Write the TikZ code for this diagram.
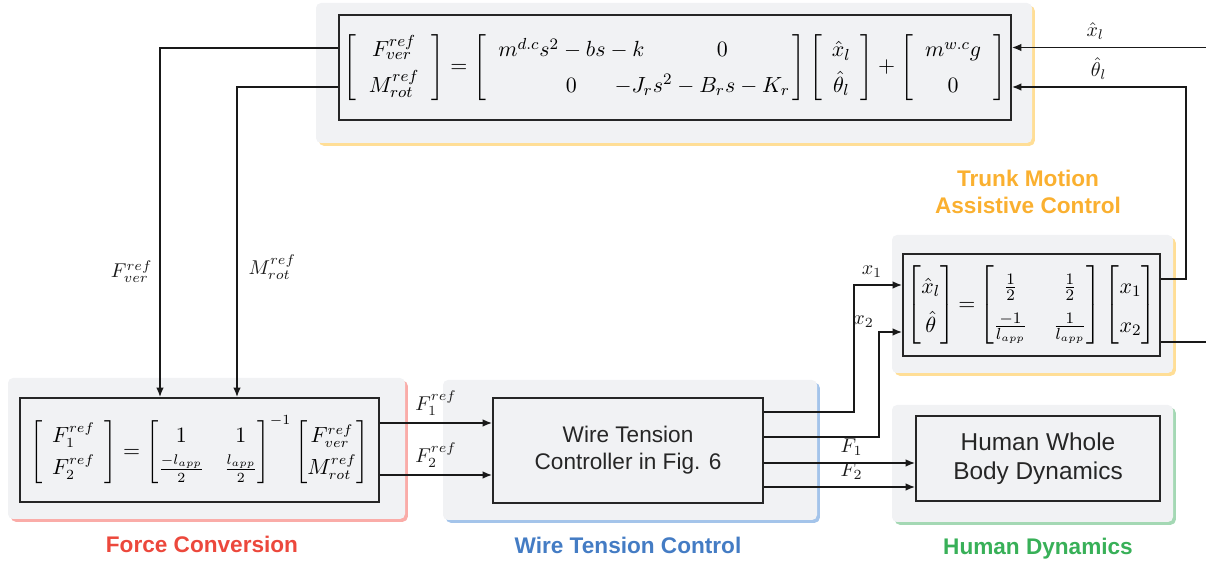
\documentclass[tikz,border=0pt]{standalone}
\usepackage{amsmath,amssymb}
\usepackage{fontspec}
\setsansfont{Liberation Sans}
\usetikzlibrary{positioning, arrows.meta, calc, shadows}
\definecolor{cBg}{RGB}{241,242,244}
\definecolor{cR}{RGB}{236,72,60}
\definecolor{cB}{RGB}{68,124,196}
\definecolor{cY}{RGB}{250,176,48}
\definecolor{cG}{RGB}{56,176,88}
\definecolor{cRs}{RGB}{250,172,168}
\definecolor{cBs}{RGB}{164,196,234}
\definecolor{cYs}{RGB}{255,222,150}
\definecolor{cGs}{RGB}{164,216,180}

\begin{document}
\begin{tikzpicture}[x=0.5pt, y=-0.5pt, >={Latex[length=4.8pt,width=3.8pt]},
    panel/.style={fill=cBg, rounded corners=2.5pt,
        drop shadow={shadow xshift=1.4pt, shadow yshift=-1.4pt, fill=#1, opacity=1}},
    blk/.style={draw=black!85, line width=0.75pt, fill=cBg, inner sep=0pt},
    eq/.style={font=\fontsize{11}{13.5}\selectfont},
    conn/.style={->, line width=0.9pt, black!90},
    wire/.style={line width=0.9pt, black!90},
    txt/.style={font=\sffamily\fontsize{11.3}{13.5}\selectfont, align=center, text=black!85},
    grp/.style={font=\sffamily\bfseries\fontsize{11.3}{13.4}\selectfont, align=center}]

    \useasboundingbox (0,0) rectangle (1206,566);

    % group panels
    \fill[panel=cYs] (316,3) rectangle (1032,143);
    \fill[panel=cYs] (892,235) rectangle (1173,373);
    \fill[panel=cRs] (8,378) rectangle (405,519);
    \fill[panel=cBs] (443,380) rectangle (817,520);
    \fill[panel=cGs] (892,405) rectangle (1173,522);

    % blocks
    \node[blk, eq, minimum width=336pt, minimum height=52.5pt] (eqtop) at (675,67.5)
        {\renewcommand{\arraystretch}{1.3}%
         $\left[\;\;\begin{matrix} F_{ver}^{ref}\\ M_{rot}^{ref}\end{matrix}\;\;\right]
          = \left[\begin{array}{@{\hspace{6pt}}c@{\hspace{-15pt}}r@{\hspace{1.5pt}}}
                m^{d.c}s^2-bs-k & 0\hspace{31pt}\\
                0 & -J_rs^2-B_rs-K_r\end{array}\right]
          \left[\;\,\begin{matrix}\hat{x}_l\\ \hat{\theta}_l\end{matrix}\;\,\right]
          + \left[\;\;\begin{matrix} m^{w.c}g\\ 0\end{matrix}\;\;\right]$};
    \node[blk, eq, minimum width=128.5pt, minimum height=51pt] (trunk) at (1031.5,305)
        {\renewcommand{\arraystretch}{1.45}\setlength{\arraycolsep}{6.5pt}%
         $\begin{bmatrix}\hat{x}_l\\ \hat{\theta}\end{bmatrix}
          {=}\begin{bmatrix}\frac{1}{2} & \frac{1}{2}\\ \frac{-1}{l_{app}} & \frac{1}{l_{app}}\end{bmatrix}
          \begin{bmatrix}x_1\\ x_2\end{bmatrix}$};
    \node[blk, minimum width=179.5pt, minimum height=52pt,
          font=\fontsize{10.5}{13}\selectfont] (force) at (199.5,450)
        {\renewcommand{\arraystretch}{1.25}%
         $\left[\;\,\begin{matrix} F_1^{ref}\\ F_2^{ref}\end{matrix}\;\,\right]
          = \begin{bmatrix} 1 & 1\\ \frac{-l_{app}}{2} & \frac{l_{app}}{2}\end{bmatrix}^{-1}
          \begin{bmatrix} F_{ver}^{ref}\\ M_{rot}^{ref}\end{bmatrix}$};
    \node[blk, txt, minimum width=135pt, minimum height=52.5pt] (wire) at (628,450.5)
        {Wire Tension\\Controller in Fig. 6};
    \node[blk, txt, minimum width=122pt, minimum height=42.5pt,
          font=\sffamily\fontsize{12.2}{14.2}\selectfont] (human) at (1038,458.5)
        {Human Whole\\Body Dynamics};

    % group labels
    \node[grp, text=cR] (lforce) at (202,544) {Force Conversion};
    \node[grp, text=cB] (lwire) at (628,545) {Wire Tension Control};
    \node[grp, text=cG] (lhuman) at (1038,549) {Human Dynamics};
    \node[grp, text=cY] (ltrunk) at (1028,192) {Trunk Motion\\Assistive Control};

    % reference force and moment down to the conversion
    \draw[conn] ($(eqtop.west)+(0,-19.5)$) -| node[pos=.82, left] {$F_{ver}^{ref}$} ($(force.north)+(-39.5,0)$);
    \draw[conn] ($(eqtop.west)+(0,19.5)$) -| node[pos=.79, right=2pt] {$M_{rot}^{ref}$} ($(force.north)+(37.5,0)$);

    % wire force references
    \draw[conn] ($(force.east)+(0,-27)$) coordinate (f1) -- (f1 -| wire.west) node[midway, above] {$F_1^{ref}$};
    \draw[conn] ($(force.east)+(0,25)$) coordinate (f2) -- (f2 -| wire.west) node[midway, above] {$F_2^{ref}$};

    % wire lengths back to trunk motion
    \draw[conn] ($(wire.east)+(0,-38.5)$) -- ++(90,0) |- node[pos=.75, above, xshift=-3pt] {$x_1$} ($(trunk.west)+(0,-20)$);
    \draw[conn] ($(wire.east)+(0,-13.5)$) -- ++(115,0) |- node[pos=.5, above left, inner sep=2pt] {$x_2$} ($(trunk.west)+(0,27)$);

    % wire forces to the human
    \draw[conn] ($(wire.east)+(0,12.5)$) coordinate (o1) -- (o1 -| human.west) node[pos=.58, above] {$F_1$};
    \draw[conn] ($(wire.east)+(0,36.5)$) coordinate (o2) -- (o2 -| human.west) node[pos=.58, above] {$F_2$};

    % estimated trunk motion
    \draw[conn] ($(trunk.east)+(0,-26)$) -- ++(25,0) |- node[pos=.75, above] {$\hat{\theta}_l$} ($(eqtop.east)+(0,19.5)$);
    \coordinate (xin) at (1206,47.5);
    \draw[conn] (xin) -- (xin -| eqtop.east) node[pos=.57, above] {$\hat{x}_l$};
    \coordinate (xout) at (1206,342);
    \draw[wire] (xout -| trunk.east) -- (xout);

\end{tikzpicture}
\end{document}
